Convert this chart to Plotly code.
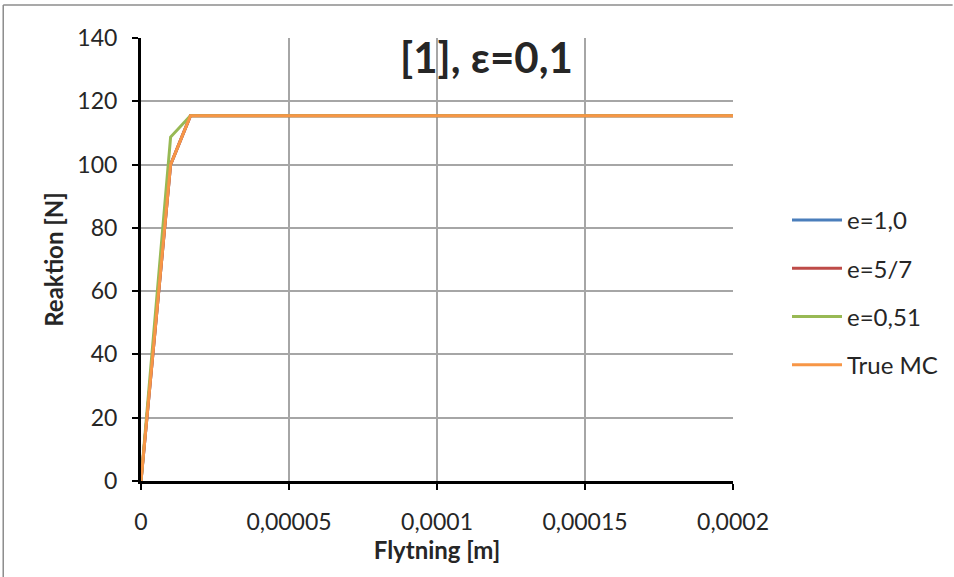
import plotly.graph_objects as go

# Data (displacement in m, reaction in N)
x_e10 = [0, 0.00001, 0.0000167, 0.0002]
y_e10 = [0, 100.0, 115.4, 115.4]
x_e57 = [0, 0.00001, 0.0000167, 0.0002]
y_e57 = [0, 100.0, 115.4, 115.4]
x_e051 = [0, 0.00001, 0.0000167, 0.0002]
y_e051 = [0, 108.7, 115.4, 115.4]
x_mc = [0, 0.00001, 0.0000167, 0.0002]
y_mc = [0, 100.0, 115.4, 115.4]

series_names = ["e=1,0", "e=5/7", "e=0,51", "True MC"]
series_colors = ["#4A7EBB", "#BE4B48", "#98B954", "#F79646"]

x_tickvals = [0, 0.00005, 0.0001, 0.00015, 0.0002]
x_ticktext = ["0", "0,00005", "0,0001", "0,00015", "0,0002"]
y_tickvals = [0, 20, 40, 60, 80, 100, 120, 140]

FONT = "Lato, Carlito, Calibri, sans-serif"
TXT = "#262626"

fig = go.Figure()
for i, (xs, ys) in enumerate([(x_e10, y_e10), (x_e57, y_e57), (x_e051, y_e051), (x_mc, y_mc)]):
    fig.add_trace(go.Scatter(
        x=xs, y=ys, mode="lines", name=series_names[i],
        line=dict(color=series_colors[i], width=3),
        legendgroup=f"g{i}",
    ))

W, H = 954, 577
ml, mr, mt, mb = 141, 220, 38, 96
pw, ph = W - ml - mr, H - mt - mb

fig.update_layout(
    width=W, height=H,
    margin=dict(l=ml, r=mr, t=mt, b=mb, pad=0),
    paper_bgcolor="white", plot_bgcolor="white",
    font=dict(family=FONT, size=23, color=TXT),
    separators=", ",
    showlegend=True,
    legend=dict(
        x=(787 - ml) / pw, y=(H - 198 - mb) / ph, xanchor="left", yanchor="top",
        font=dict(family=FONT, size=24, color=TXT),
        tracegroupgap=14, traceorder="grouped",
        itemwidth=50, bgcolor="rgba(0,0,0,0)",
    ),
    annotations=[dict(
        text="<b>[1], ε=0,1</b>", xref="paper", yref="paper",
        x=(487 - ml) / pw, y=(H - 57 - mb) / ph, xanchor="center", yanchor="middle",
        showarrow=False, font=dict(family=FONT, size=42, color=TXT),
    )],
    shapes=[
        dict(type="line", xref="paper", yref="paper",
             x0=(3 - ml) / pw, x1=(3 - ml) / pw,
             y0=(H - 577 - mb) / ph, y1=(H - 5 - mb) / ph,
             line=dict(color="#8c8c8c", width=1.5)),
        dict(type="line", xref="paper", yref="paper",
             x0=(3 - ml) / pw, x1=(954 - ml) / pw,
             y0=(H - 5 - mb) / ph, y1=(H - 5 - mb) / ph,
             line=dict(color="#8c8c8c", width=1.5)),
    ],
)

fig.update_xaxes(
    range=[0, 0.0002], tickvals=x_tickvals, ticktext=x_ticktext,
    showgrid=True, gridcolor="#a6a6a6", gridwidth=1.5,
    showline=True, linecolor="black", linewidth=3,
    ticks="outside", ticklen=6, tickwidth=2, tickcolor="black",
    ticklabelstandoff=12,
    zeroline=False,
    title=dict(text="<b>Flytning [m]</b>", font=dict(family=FONT, size=24, color=TXT), standoff=6),
    tickfont=dict(family=FONT, size=23, color=TXT),
)
fig.update_yaxes(
    range=[0, 140], tickvals=y_tickvals,
    showgrid=True, gridcolor="#a6a6a6", gridwidth=1.5,
    showline=True, linecolor="black", linewidth=3,
    ticks="outside", ticklen=6, tickwidth=2, tickcolor="black",
    ticklabelstandoff=10,
    zeroline=False,
    title=dict(text="<b>Reaktion [N]</b>", font=dict(family=FONT, size=24, color=TXT), standoff=7),
    tickfont=dict(family=FONT, size=23, color=TXT),
)

fig.write_html("out.html")
